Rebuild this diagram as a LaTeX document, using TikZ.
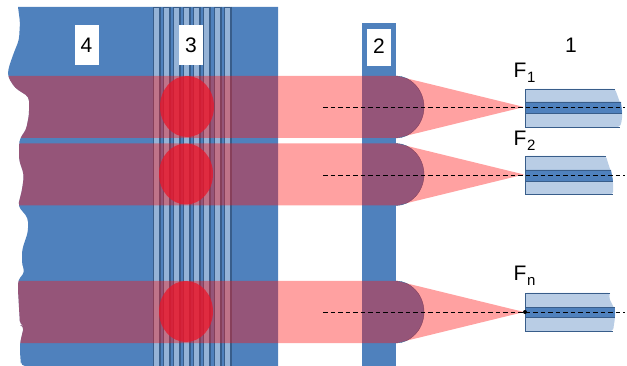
\documentclass[tikz,border=0pt]{standalone}
\usepackage{fontspec}
\setmainfont{Liberation Sans}
\definecolor{slab}{RGB}{79,129,189}
\definecolor{edge}{RGB}{56,93,138}
\definecolor{stripe}{RGB}{149,179,215}
\definecolor{clad}{RGB}{185,205,229}
\definecolor{beam}{RGB}{255,20,20}
\definecolor{spot}{RGB}{235,20,40}
\newcommand{\tornedge}{(18,7) -- (20,22) -- (19,40) -- (13,55) -- (8,70) -- (8,77) -- (15,88) -- (29,97) -- (29,115) -- (26,130) -- (20,138) -- (19,145) -- (19,160) -- (24,175) -- (22,190) -- (18,206) -- (28,218) -- (28,232) -- (22,250) -- (22,265) -- (25,272) -- (18,280) -- (18,290) -- (20,325) -- (24,326) -- (20,343) -- (20,352) -- (21,366)}
\newcommand{\drawbeam}[1]{\fill[beam,fill opacity=.4] (0,#1-31) -- (397,#1-31) -- (524,#1) -- (397,#1+31) -- (0,#1+31) -- cycle;}
\newcommand{\drawdome}[1]{\draw[edge,fill=slab] (396,#1-31) .. controls (411,#1-31) and (424,#1-17) .. (424,#1) .. controls (424,#1+17) and (411,#1+31) .. (396,#1+31);}
\newcommand{\drawspot}[2]{\fill[spot,fill opacity=.75] (#1,#2) ellipse [x radius=27pt,y radius=30.5pt];}
\newcommand{\drawaxis}[1]{\draw[dash pattern=on 4.5pt off 3pt,line width=.9pt] (323,#1)--(625,#1);}
\tikzset{
  numberbox/.style={fill=white,minimum width=24pt,minimum height=40pt,inner sep=0pt,font=\fontsize{21}{21}\selectfont},
  focuslabel/.style={anchor=base west,inner sep=0pt,font=\fontsize{21}{21}\selectfont},
  subscriptlabel/.style={anchor=base west,inner sep=0pt,font=\fontsize{15}{15}\selectfont},
  cladding/.style={fill=clad},
  fiberline/.style={edge,line width=.8pt},
  fibercore/.style={fill=slab}
}
\begin{document}
\begin{tikzpicture}[x=1pt,y=-1pt]
\useasboundingbox (0,0) rectangle (627,366);
% waveguide chip with torn edge
\fill[slab,rounded corners=4pt] \tornedge -- (21,366) [sharp corners] -- (278,366) -- (278,7) -- cycle;
\foreach \i in {0,...,7}{
  \draw[edge,fill=stripe,line width=.6pt] (153+10.15*\i,7) rectangle ++(6,359);
  \draw[edge,line width=1pt] (160.2+10.15*\i,7)--(160.2+10.15*\i,366);
}
% lens array
\fill[slab] (362,23) rectangle (396,366);
\foreach \y in {107,174.5,312}{\drawdome{\y}}
% fibers
\fill[cladding,rounded corners=2pt] (525,89)--(615,89)--(618,97)--(622,108)--(622,120)--(620,127)--(525,127)--cycle;
\fill[fibercore] (525,102)--(621,102)--(622,113)--(525,113)--cycle;
\draw[fiberline] (615,89)--(525,89)--(525,127)--(620,127) (525,102)--(621,102) (525,113)--(622,113);
\fill[cladding,rounded corners=2pt] (525,156)--(606,156)--(608,163)--(612,175)--(613,181)--(613,194)--(525,194)--cycle;
\fill[fibercore] (525,170)--(611,170)--(613,181)--(525,181)--cycle;
\draw[fiberline] (606,156)--(525,156)--(525,194)--(613,194) (525,170)--(611,170) (525,181)--(613,181);
\fill[cladding,rounded corners=2pt] (525,293)--(610,293)--(609,298)--(615,310)--(615,318)--(613,331)--(525,331)--cycle;
\fill[fibercore] (525,307)--(615,307)--(615,317)--(525,317)--cycle;
\draw[fiberline] (610,293)--(525,293)--(525,331)--(613,331) (525,307)--(615,307) (525,317)--(615,317);
% beams
\begin{scope}
\clip[rounded corners=4pt] \tornedge -- (21,366) [sharp corners] -- (627,366) -- (627,0) -- (18,0) -- cycle;
\foreach \y in {107,174.5,312}{\drawbeam{\y}}
\end{scope}
\drawspot{187}{106.5}
\drawspot{186}{174}
\drawspot{186}{311.5}
\foreach \y in {107.5,175,312}{\drawaxis{\y}}
\fill (525,312) circle (2pt);
% labels
\node[numberbox] (label4) at (86.5,45.3) {4};
\node[numberbox] (label3) at (191,45.3) {3};
\node[numberbox,minimum height=37pt] (label2) at (379,47.5) {\raisebox{2pt}{2}};
\node[numberbox,fill=none] (label1) at (571,45) {1};
\node[focuslabel] (focus1) at (513.5,78) {F};
\node[subscriptlabel] (sub1) at (527,83) {1};
\node[focuslabel] (focus2) at (513.5,146) {F};
\node[subscriptlabel] (sub2) at (527,151) {2};
\node[focuslabel] (focusn) at (513.5,281) {F};
\node[subscriptlabel] (subn) at (527,286) {n};
\end{tikzpicture}
\end{document}
